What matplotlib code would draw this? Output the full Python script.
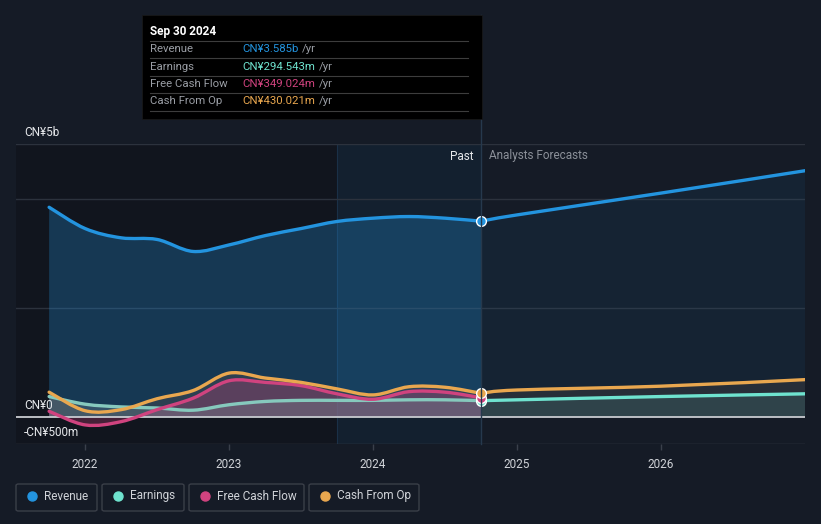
import matplotlib
matplotlib.use("Agg")
import matplotlib.pyplot as plt
from matplotlib.patches import Rectangle, FancyBboxPatch, PathPatch
from matplotlib.lines import Line2D
from matplotlib.path import Path

plt.rcParams['font.family'] = ['Roboto', 'DejaVu Sans']

# ---- data (CN¥ billions) ----
past_x = [2021.75, 2022.0, 2022.25, 2022.5, 2022.75, 2023.0, 2023.25, 2023.5,
          2023.75, 2024.0, 2024.25, 2024.5, 2024.75]
revenue = [3.84, 3.45, 3.28, 3.25, 3.03, 3.15, 3.32, 3.45, 3.58, 3.64, 3.67, 3.64, 3.585]
earnings = [0.37, 0.23, 0.18, 0.16, 0.12, 0.22, 0.28, 0.30, 0.30, 0.30, 0.31, 0.31, 0.2945]
fcf = [0.10, -0.15, -0.09, 0.13, 0.34, 0.66, 0.63, 0.57, 0.42, 0.32, 0.46, 0.45, 0.349]
cfo = [0.45, 0.11, 0.13, 0.33, 0.48, 0.80, 0.71, 0.63, 0.51, 0.40, 0.55, 0.54, 0.43]

fc_x = [2024.75, 2025.0, 2026.0, 2027.0]
revenue_fc = [3.585, 3.70, 4.10, 4.51]
earnings_fc = [0.2945, 0.31, 0.37, 0.42]
cfo_fc = [0.43, 0.49, 0.56, 0.68]

x_ticks = [2022, 2023, 2024, 2025, 2026]
x_tick_labels = ["2022", "2023", "2024", "2025", "2026"]
y_labels = [(5.0, "CN¥5b"), (0.0, "CN¥0"), (-0.5, "-CN¥500m")]

tooltip_title = "Sep 30 2024"
tooltip_rows = [("Revenue", "CN¥3.585b"), ("Earnings", "CN¥294.543m"),
                ("Free Cash Flow", "CN¥349.024m"), ("Cash From Op", "CN¥430.021m")]
legend_names = ["Revenue", "Earnings", "Free Cash Flow", "Cash From Op"]

C_REV = "#2394df"
C_EARN = "#6fe3cf"
C_FCF = "#d0437f"
C_CFO = "#e9a74f"
colors = [C_REV, C_EARN, C_FCF, C_CFO]
BG = "#151b26"

W, H = 821, 524
fig = plt.figure(figsize=(W / 100, H / 100), dpi=100, facecolor=BG)

def fx(x):
    return x / W

def fy(y):
    return 1 - y / H

def curve_path(xs, ys, closed_to_zero=False):
    """Smooth Bezier path through the data points (Catmull-Rom style)."""
    n = len(xs)
    verts = [(xs[0], ys[0])]
    codes = [Path.MOVETO]
    k = 1 / 6
    for i in range(n - 1):
        xp, yp = (xs[i - 1], ys[i - 1]) if i > 0 else (xs[i], ys[i])
        xn2, yn2 = (xs[i + 2], ys[i + 2]) if i + 2 < n else (xs[i + 1], ys[i + 1])
        c1 = (xs[i] + (xs[i + 1] - xp) * k, ys[i] + (ys[i + 1] - yp) * k)
        c2 = (xs[i + 1] - (xn2 - xs[i]) * k, ys[i + 1] - (yn2 - ys[i]) * k)
        verts += [c1, c2, (xs[i + 1], ys[i + 1])]
        codes += [Path.CURVE4] * 3
    if closed_to_zero:
        verts += [(xs[-1], 0), (xs[0], 0), (xs[0], ys[0])]
        codes += [Path.LINETO, Path.LINETO, Path.CLOSEPOLY]
    return Path(verts, codes)

def smooth_line(ax, xs, ys, color, lw, z):
    ax.add_patch(PathPatch(curve_path(xs, ys), facecolor="none", edgecolor=color, lw=lw,
                           zorder=z, capstyle="round", joinstyle="round"))

def smooth_fill(ax, xs, ys, color, alpha, z):
    ax.add_patch(PathPatch(curve_path(xs, ys, True), facecolor=color, edgecolor="none",
                           alpha=alpha, lw=0, zorder=z))

ax_l, ax_r, ax_t, ax_b = 16, 805, 144, 444
ax = fig.add_axes([fx(ax_l), fy(ax_b), fx(ax_r) - fx(ax_l), fy(ax_t) - fy(ax_b)])
ax.set_facecolor(BG)
x0, x1 = 2021.52, 2027.0
ax.set_xlim(x0, x1)
ax.set_ylim(-0.5, 5.0)
for s in ax.spines.values():
    s.set_visible(False)

# background regions
ax.axvspan(x0, 2023.75, color="#11151e", zorder=0, lw=0)
ax.axvspan(2023.75, 2024.75, color="#13202f", zorder=0, lw=0)
ax.axvline(2023.75, color="#1a3047", lw=0.8, zorder=0.5)

# grid lines
for g in [5.0, 4.0, 2.0]:
    ax.axhline(g, color="#2c323d", lw=1.0, zorder=1)
ax.axhline(-0.5, color="#3a404b", lw=1.0, zorder=1)

# fills
smooth_fill(ax, past_x, revenue, C_REV, 0.28, 2)
smooth_fill(ax, fc_x, revenue_fc, C_REV, 0.07, 2)
smooth_fill(ax, past_x, cfo, "#4a4a50", 0.45, 2.1)
smooth_fill(ax, past_x, fcf, C_FCF, 0.28, 2.2)
smooth_fill(ax, past_x, earnings, "#8aa0a8", 0.25, 2.3)
smooth_fill(ax, fc_x, cfo_fc, "#3a3a3e", 0.5, 2.1)
smooth_fill(ax, fc_x, earnings_fc, C_EARN, 0.12, 2.2)

# zero line
ax.axhline(0, color="#c9ccd1", lw=1.3, zorder=3)

lw = 2.4
smooth_line(ax, past_x, earnings, "#86c9bd", lw, 4)
smooth_line(ax, fc_x, earnings_fc, C_EARN, lw, 4)
smooth_line(ax, past_x, fcf, C_FCF, lw, 4.2)
smooth_line(ax, past_x, cfo, C_CFO, lw, 4.4)
smooth_line(ax, fc_x, cfo_fc, C_CFO, lw, 4.4)
smooth_line(ax, past_x, revenue, C_REV, lw, 4.6)
smooth_line(ax, fc_x, revenue_fc, C_REV, lw, 4.6)

# markers at Sep 30 2024
for vals, c in [(earnings, C_EARN), (fcf, C_FCF), (cfo, C_CFO), (revenue, C_REV)]:
    ax.plot([past_x[-1]], [vals[-1]], "o", ms=7, mfc=c, mec="white", mew=1.0, zorder=6)

# ticks
ax.set_xticks(x_ticks)
ax.set_xticklabels(x_tick_labels)
ax.tick_params(axis="x", colors="#3a404b", length=4, width=1, labelcolor="#d0d3d8",
               labelsize=8.5, pad=6)
ax.set_yticks([])

for v, t in y_labels:
    ax.annotate(t, xy=(0, v), xycoords=("axes fraction", "data"), xytext=(8, 5),
                textcoords="offset pixels", ha="left", va="bottom", color="#e6e8eb", fontsize=8.5)

# Past / Analysts Forecasts labels
ax.annotate("Past", xy=(2024.75, 5.0), xytext=(-8, -12), textcoords="offset pixels",
            ha="right", va="center", color="#e6e8eb", fontsize=8.5)
ax.annotate("Analysts Forecasts", xy=(2024.75, 5.0), xytext=(8, -12), textcoords="offset pixels",
            ha="left", va="center", color="#8b9099", fontsize=8.5)

# vertical divider line extending to tooltip
fig.add_artist(Line2D([fx(481), fx(481)], [fy(444), fy(15)], color="#26394d", lw=1.0, zorder=1))

# tooltip
fig.add_artist(Rectangle((fx(142), fy(119)), fx(482) - fx(142), fy(15) - fy(119),
                         facecolor="black", edgecolor="#1a1a1a", lw=0.5, zorder=10))
fig.text(fx(150), fy(31), tooltip_title, color="white", fontsize=8.5, fontweight="bold",
         ha="left", va="center", zorder=11)
sep_ys = [41, 58, 76, 93, 111]
for sy in sep_ys:
    fig.add_artist(Line2D([fx(150), fx(468)], [fy(sy), fy(sy)], color="#3d3d3d", lw=0.8, zorder=11))
row_ys = [49, 66.5, 84, 101]
value_texts = []
for (lab, val), ry, c in zip(tooltip_rows, row_ys, colors):
    fig.text(fx(150), fy(ry), lab, color="#9a9ea5", fontsize=8.2, ha="left", va="center", zorder=11)
    value_texts.append(fig.text(fx(242), fy(ry), val, color=c, fontsize=8.2, ha="left",
                                va="center", zorder=11))
fig.canvas.draw()
renderer = fig.canvas.get_renderer()
for t in value_texts:
    bb = t.get_window_extent(renderer)
    fig.text((bb.x1 + 4) / W, t.get_position()[1], "/yr", color="#9a9ea5", fontsize=8.2,
             ha="left", va="center", zorder=11)

# legend boxes
boxes = [(16, 97), (102, 184), (189, 304), (309, 419)]
for (bx0, bx1), name, c in zip(boxes, legend_names, colors):
    fig.add_artist(FancyBboxPatch((fx(bx0), fy(511)), fx(bx1) - fx(bx0), fy(484) - fy(511),
                                  boxstyle="round,pad=0,rounding_size=0.003",
                                  facecolor="none", edgecolor="#3a3f48", lw=1.0))
    fig.add_artist(Line2D([fx(bx0 + 16)], [fy(496)], marker="o", ms=6.5, mfc=c, mec=c, lw=0))
    fig.text(fx(bx0 + 28), fy(496), name, color="#d0d3d8", fontsize=8.5, ha="left", va="center")

fig.savefig("out.png", dpi=100, facecolor=BG)
